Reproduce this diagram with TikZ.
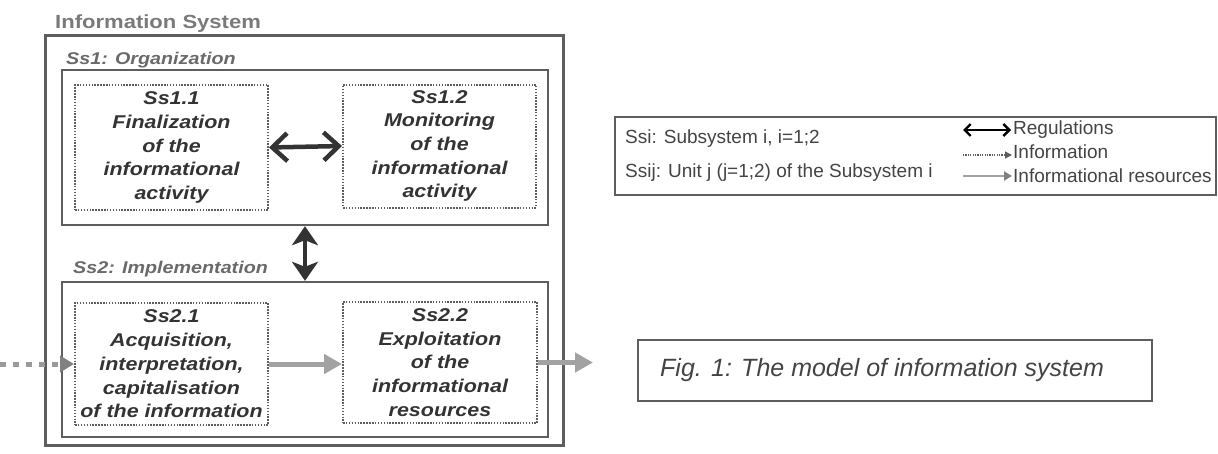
\documentclass[tikz,border=0pt]{standalone}
\usepackage{fontspec}
\setmainfont{Liberation Sans}
\newfontfamily\wideface{Liberation Sans}[FakeStretch=1.16]
\usetikzlibrary{arrows.meta}
\definecolor{lineg}{HTML}{5E5E5E}
\definecolor{titleg}{HTML}{7A7A7A}
\definecolor{labelg}{HTML}{6A6A6A}
\definecolor{textg}{HTML}{333333}
\definecolor{legtext}{HTML}{444444}
\definecolor{resg}{HTML}{A2A2A2}
\definecolor{dotg}{HTML}{9A9A9A}
\begin{document}
\begin{tikzpicture}[x=1pt,y=-1pt,
  outerbox/.style={draw=lineg,line width=3pt,inner sep=0pt},
  subbox/.style={draw=lineg,line width=2.4pt,inner sep=0pt},
  unitbox/.style={draw=lineg,line width=2pt,dash pattern=on 1.5pt off 1.4pt,
    inner sep=0pt,align=center,text=textg,
    font=\wideface\bfseries\itshape\fontsize{18.5}{23.7}\selectfont},
  sslabel/.style={anchor=base west,inner sep=0pt,text=labelg,
    font=\wideface\bfseries\itshape\fontsize{17}{20}\selectfont},
  legbox/.style={draw=lineg,line width=1.6pt,inner sep=0pt},
  legtxt/.style={anchor=base west,inner sep=0pt,text=legtext,
    font=\fontsize{19}{22}\selectfont},
  regarrow/.style={draw=textg,line width=4.5pt,
    {Straight Barb[length=15pt,width=28pt]}-{Straight Barb[length=15pt,width=28pt]}},
  vregarrow/.style={draw=textg,line width=4.5pt,
    {Stealth[length=19pt,width=26pt,inset=5pt]}-{Stealth[length=19pt,width=26pt,inset=5pt]}},
  resarrow/.style={draw=resg,line width=5pt,-{Triangle[length=18pt,width=19pt]}},
  infoarrow/.style={draw=dotg,line width=5pt,dash pattern=on 6pt off 7pt,
    -{Triangle[length=14pt,width=16pt,color=gray]}},
  lreg/.style={draw=black,line width=2.4pt,
    {Straight Barb[length=6pt,width=12pt]}-{Straight Barb[length=6pt,width=12pt]}},
  linfo/.style={draw=lineg,line width=1.4pt,dash pattern=on 1.2pt off 1.2pt,
    -{Triangle[length=7pt,width=7pt,color=lineg]}},
  lres/.style={draw=resg,line width=2.6pt,-{Triangle[length=8pt,width=9pt,color=gray]}},
]
\useasboundingbox (0,0) rectangle (1218,453);

% title
\node[anchor=base west,inner sep=0pt,text=titleg,
  font=\wideface\bfseries\fontsize{19}{22}\selectfont] (title) at (55,28) {Information System};

% boxes
\node[outerbox,minimum width=518pt,minimum height=410pt] (is) at (304,240) {};
\node[subbox,minimum width=486pt,minimum height=155pt] (ss1) at (305,147.5) {};
\node[subbox,minimum width=486pt,minimum height=155pt] (ss2) at (305,359.5) {};

\node[sslabel] (ss1lab) at (66,64) {Ss1: Organization};
\node[sslabel] (ss2lab) at (73,273) {Ss2: Implementation};

\node[unitbox,minimum width=193pt,minimum height=125pt] (s11) at (171.5,147.5)
  {Ss1.1\\Finalization\\of the\\informational\\activity};
\node[unitbox,minimum width=193pt,minimum height=123pt] (s12) at (439.5,146)
  {Ss1.2\\Monitoring\\of the\\informational\\activity};
\node[unitbox,minimum width=193pt,minimum height=122pt] (s21) at (171.5,364)
  {Ss2.1\\Acquisition,\\interpretation,\\capitalisation\\of the information};
\node[unitbox,minimum width=194pt,minimum height=121pt] (s22) at (440,362.5)
  {Ss2.2\\Exploitation\\of the\\informational\\resources};

% connectors
\draw[regarrow] (s11.east) -- (s12.west);
\draw[vregarrow] (ss1.south) -- (ss2.north);
\draw[resarrow] (s21.east) -- (s21.east -| s22.west);
\coordinate (inp) at (0,364);
\draw[infoarrow] (inp) -- (s21.west);
\coordinate (outp) at (593,362.5);
\draw[resarrow] (s22.east) -- (outp);

% legend
\node[legbox,minimum width=601pt,minimum height=78pt] (legend) at (915.5,156) {};
\node[legtxt] (l1) at (625,143) {Ssi: Subsystem i, i=1;2};
\node[legtxt] (l2) at (625,177) {Ssij: Unit j (j=1;2) of the Subsystem i};
\node[legtxt] (lr) at (1013,134) {Regulations};
\node[legtxt] (li) at (1013,158) {Information};
\node[legtxt] (lir) at (1013,182) {Informational resources};
\coordinate (ra) at (963,130);
\coordinate (rb) at (1011,130);
\draw[lreg] (ra) -- (rb);
\coordinate (ia) at (963,155);
\coordinate (ib) at (1012,155);
\draw[linfo] (ia) -- (ib);
\coordinate (sa) at (963,176);
\coordinate (sb) at (1012,176);
\draw[lres] (sa) -- (sb);

% caption
\node[legbox,minimum width=514pt,minimum height=61pt] (capbox) at (895,370.5) {};
\node[anchor=base west,inner sep=0pt,text=legtext,
  font=\itshape\fontsize{25}{30}\selectfont] (caption) at (660,376)
  {Fig. 1: The model of information system};
\end{tikzpicture}
\end{document}
